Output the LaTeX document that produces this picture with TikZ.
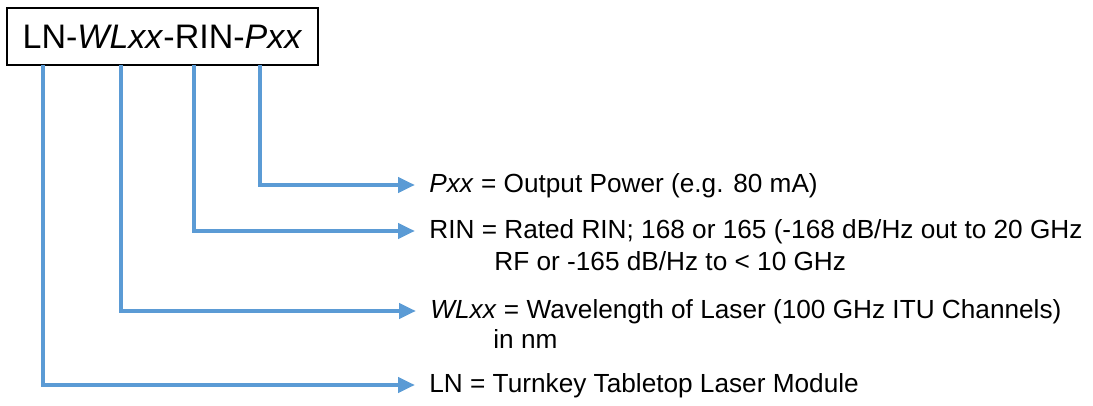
\documentclass[tikz,border=0pt]{standalone}
\usepackage{fontspec}
\setmainfont{Liberation Sans}
\usetikzlibrary{arrows.meta,positioning}
\definecolor{leadblue}{HTML}{5B9BD5}
\definecolor{bk90}{HTML}{000000}
\tikzset{
  codebox/.style={
    rectangle, draw=bk90, line width=0.8pt, fill=white,
    minimum width=155.5pt, minimum height=28.5pt,
    font=\fontsize{17}{20}\selectfont, inner sep=0pt
  },
  leadarrow/.style={
    -{Triangle[length=8.5pt, width=7.5pt]}, line width=2.3pt,
    color=#1, shorten >=7pt
  },
  leadarrow/.default=leadblue,
  desclabel/.style={
    anchor=west, inner sep=0pt, text height=0.72em, text depth=0pt,
    font=\fontsize{13.1}{15}\selectfont
  },
}
\begin{document}
\begin{tikzpicture}[x=0.5pt, y=-0.5pt]
\useasboundingbox (0,0) rectangle (1093,406);

% part number
\node[codebox] (code) at (162.5,36.5) {LN-\textit{WLxx}-RIN-\textit{Pxx}};

% where each lead leaves the box
\coordinate (lnTop)  at (43,65);
\coordinate (wlTop)  at (121,65);
\coordinate (rinTop) at (194,65);
\coordinate (pxxTop) at (260,65);

% descriptions
\node[desclabel] (pxxLbl) at (429,185) {\textit{Pxx} = Output Power (e.g. 80 mA)};
\node[desclabel] (rinLbl) at (429,231) {RIN = Rated RIN; 168 or 165 (-168 dB/Hz out to 20 GHz};
\node[desclabel] (rinMore) at (494,263) {RF or -165 dB/Hz to < 10 GHz};
\node[desclabel] (wlLbl)  at (430,311) {\textit{WLxx} = Wavelength of Laser (100 GHz ITU Channels)};
\node[desclabel] (wlMore) at (493,341) {in nm};
\node[desclabel] (lnLbl)  at (429,385) {LN = Turnkey Tabletop Laser Module};

% leads
\draw[leadarrow] (pxxTop) |- (pxxLbl.west);
\draw[leadarrow] (rinTop) |- (rinLbl.west);
\draw[leadarrow] (wlTop)  |- (wlLbl.west);
\draw[leadarrow] (lnTop)  |- (lnLbl.west);

\end{tikzpicture}
\end{document}
